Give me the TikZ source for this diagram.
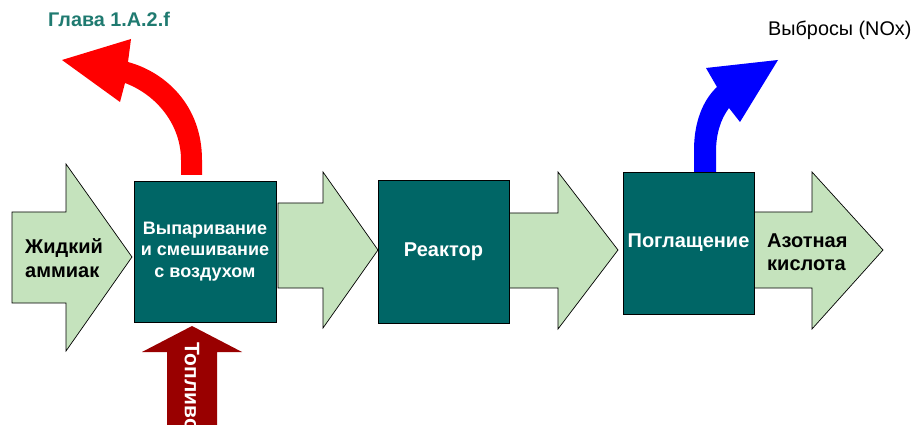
\documentclass[tikz,border=0pt]{standalone}
\usepackage{fontspec}
\setmainfont{Liberation Sans}
\definecolor{boxteal}{HTML}{006666}
\definecolor{flowgreen}{HTML}{C5E3BD}
\definecolor{titleteal}{HTML}{1F7A70}
\definecolor{fuelred}{HTML}{990000}
\begin{document}
\begin{tikzpicture}[x=1pt,y=-1pt,
  flow/.style={fill=flowgreen, draw=black, line width=0.7pt},
  stage/.style={fill=boxteal, draw=black, line width=0.9pt, text=white, align=center, inner sep=0pt},
  bigfont/.style={font=\bfseries\fontsize{20}{23.5}\selectfont},
  midfont/.style={font=\bfseries\fontsize{18}{21.5}\selectfont},
  blacklabel/.style={bigfont, text=black, align=left, anchor=west, inner sep=0pt}
]
\useasboundingbox (0,0) rectangle (914,425);
\clip (0,0) rectangle (914,425);

% green flow arrows
\draw[flow] (12,212)--(66,212)--(66,164)--(132,257)--(66,351)--(66,303)--(12,303)--cycle;
\draw[flow] (278,203)--(323,203)--(323,172)--(378,250)--(323,328)--(323,288)--(278,288)--cycle;
\draw[flow] (509,213)--(558,213)--(558,172)--(618,250)--(558,329)--(558,288)--(509,288)--cycle;
\draw[flow] (754,212)--(812,212)--(812,172)--(883,250)--(812,329)--(812,288)--(754,288)--cycle;

% stage boxes
\node[stage, midfont, minimum width=142pt, minimum height=141pt] (evap) at (205,251.5) {Выпаривание\\и смешивание\\с воздухом};
\node[stage, bigfont, minimum width=131pt, minimum height=143pt] (react) at (443.5,251.5) {Реактор};
\node[stage, bigfont, minimum width=131pt, minimum height=142pt] (absorb) at (688.5,243) {Поглащение};

% labels on flow arrows
\node[blacklabel] (ammonia) at (25,258) {Жидкий\\аммиак};
\node[blacklabel] (acid) at (767,252) {Азотная\\кислота};

% red curved arrow
\fill[red] (202,175) -- (202,160) .. controls (202,105) and (165,72) .. (128,62)
  -- (131,39) -- (62,60) -- (120,102) -- (125,83)
  .. controls (157,95) and (181,125) .. (181,160) -- (181,175) -- cycle;
\node[font=\bfseries\fontsize{19.8}{23}\selectfont, text=titleteal, anchor=base west, inner sep=0pt] (chapter) at (48,27) {Глава 1.A.2.f};

% blue curved arrow
\fill[blue] (694,172) -- (694,150) .. controls (694,122) and (703,100) .. (717,87)
  -- (706,68) -- (778,60) -- (740,122) -- (729,108)
  .. controls (720,120) and (716,135) .. (716,152) -- (716,172) -- cycle;
\node[font=\fontsize{19.8}{23}\selectfont, text=black, anchor=base west, inner sep=0pt] (emis) at (768,36) {Выбросы (NOx)};

% fuel arrow
\fill[fuelred] (192,326) -- (242,352) -- (217,352) -- (217,430) -- (167,430) -- (167,352) -- (142,352) -- cycle;
\node[font=\bfseries\fontsize{21}{24}\selectfont, text=white, rotate=-90, anchor=west, inner sep=0pt] (fuel) at (192,342) {Топливо};
\end{tikzpicture}
\end{document}
